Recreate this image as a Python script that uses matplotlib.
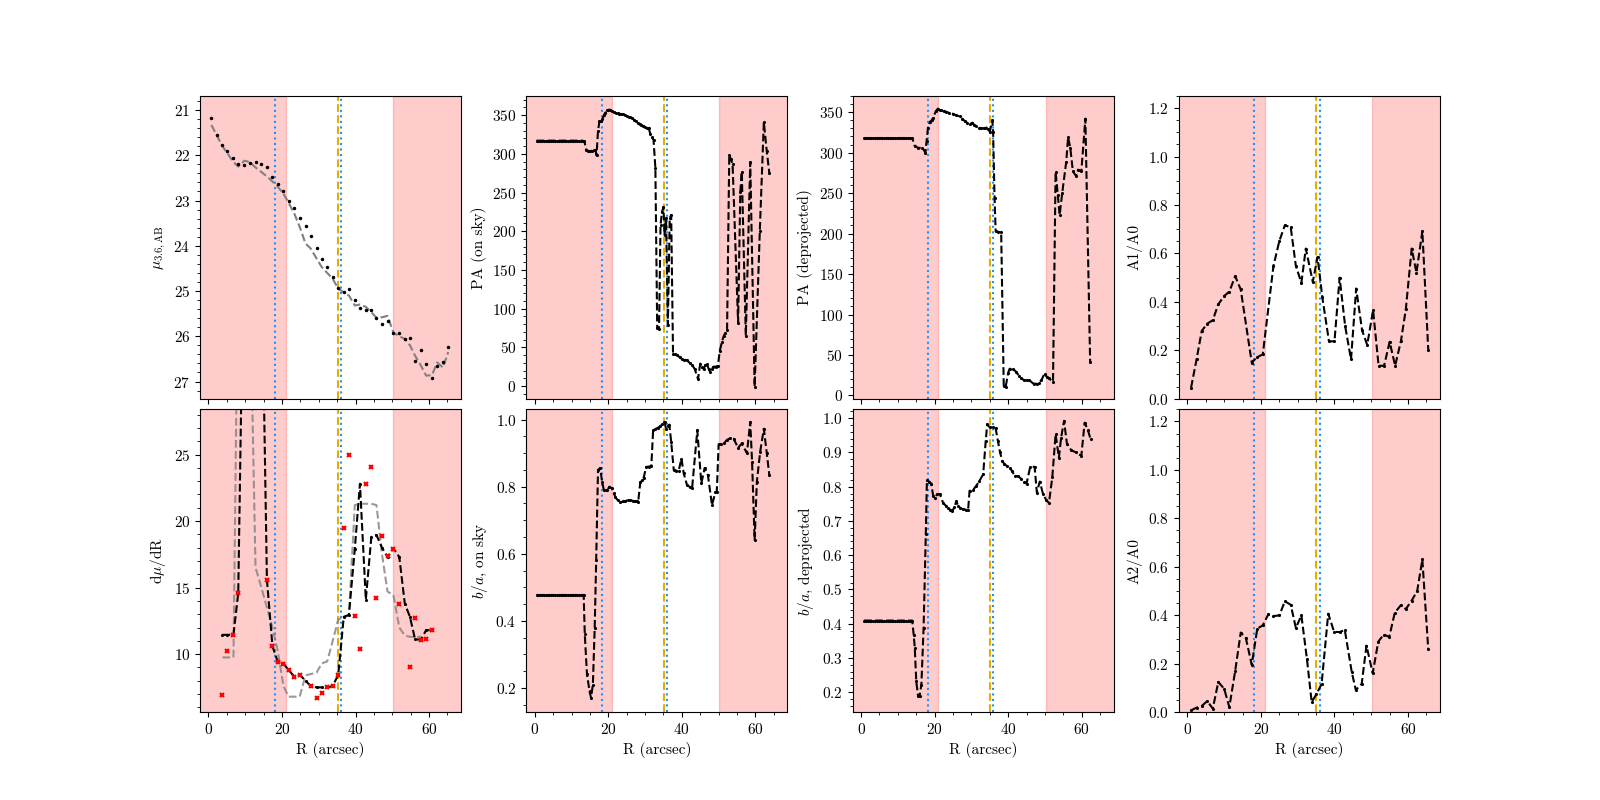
import numpy as np
import matplotlib
matplotlib.use('Agg')
import matplotlib.pyplot as plt

plt.rcParams['font.family'] = 'serif'
plt.rcParams['font.serif'] = ['cmr10']
plt.rcParams['font.size'] = 11
plt.rcParams['mathtext.fontset'] = 'cm'
plt.rcParams['axes.unicode_minus'] = False
plt.rcParams['axes.formatter.use_mathtext'] = True

# radios de las marcas verticales y zonas sombreadas (arcsec)
r_bar1 = 18.2
r_cor = 35.1
r_bar2 = 36.0
zona_in = (-5, 21.0)
zona_out = (50.2, 75)

# perfil de brillo superficial
r_prof = [0.8, 2.2, 3.8, 5.1, 6.8, 8.1, 9.8, 11.2, 12.8, 14.4, 15.9, 17.4, 18.8, 20.4, 21.8,
          23.4, 24.8, 26.4, 27.8, 29.4, 30.8, 32.3, 33.8, 35.3, 36.8, 38.2, 39.8, 41.2, 42.8,
          44.3, 45.7, 47.2, 48.7, 50.3, 51.9, 53.4, 54.8, 56.2, 57.8, 59.2, 60.8, 62.2, 63.8, 65.2]
mu = [21.17, 21.56, 21.77, 21.9, 22.06, 22.2, 22.21, 22.16, 22.15, 22.19, 22.25, 22.47, 22.64,
      22.8, 23.01, 23.17, 23.39, 23.56, 23.79, 24.04, 24.3, 24.48, 24.7, 24.94, 25.03, 24.95,
      25.19, 25.37, 25.41, 25.41, 25.59, 25.72, 25.66, 25.92, 25.92, 26.05, 26.03, 26.55, 26.3,
      26.61, 26.93, 26.66, 26.57, 26.23]
mu_suave = [21.33, 21.55, 21.8, 21.95, 22.15, 22.25, 22.12, 22.15, 22.27, 22.37, 22.47, 22.58,
            22.69, 22.85, 23.05, 23.3, 23.58, 23.95, 24.06, 24.28, 24.47, 24.6, 24.73, 24.95,
            25.03, 25.1, 25.32, 25.3, 25.35, 25.47, 25.59, 25.58, 25.55, 25.92, 26.0, 26.06,
            26.2, 26.43, 26.65, 26.87, 26.86, 26.58, 26.69, 26.35]

# derivada del perfil
r_der = [3.8, 5.1, 6.8, 8.1, 9.8, 11.2, 12.8, 14.4, 15.9, 17.4, 18.8, 20.4, 21.8, 23.4, 24.8,
         26.4, 27.8, 29.4, 30.8, 32.3, 33.8, 35.3, 36.8, 38.2, 39.8, 41.2, 42.8, 44.3, 45.7,
         47.2, 48.7, 50.3, 51.9, 53.4, 54.8, 56.2, 57.8, 59.2, 60.8]
der_med = [11.45, 11.45, 11.45, 14.6, 45, 50, 48, 41, 15.6, 10.6, 9.45, 9.3, 8.8, 8.3, 8.45,
           8.0, 7.6, 7.5, 7.5, 7.5, 7.6, 8.45, 12.8, 12.95, 17.9, 22.8, 14.1, 18.8, 18.95,
           18.0, 17.3, 17.95, 17.3, 13.8, 12.8, 11.1, 11.1, 11.8, 11.8]
r_der_gris = [3.8, 5.1, 6.8, 8.1, 9.8, 11.2, 12.8, 14.4, 15.9, 17.4, 18.8, 20.4, 21.8, 23.4,
              24.8, 26.4, 27.8, 29.4, 30.8, 32.3, 33.8, 35.3, 36.8, 38.2, 39.8, 41.2, 42.8,
              44.3, 45.7, 47.2, 48.7, 50.3, 51.9, 53.4, 54.8, 56.2, 57.8]
der_gris = [9.75, 9.75, 9.75, 41, 45, 39, 16.5, 15.0, 13.5, 12.0, 10.3, 7.6, 6.8, 6.8, 6.8,
            8.4, 8.5, 8.6, 9.3, 9.45, 11.0, 12.6, 12.8, 12.9, 21.2, 21.3, 21.3, 21.3, 21.2,
            17.5, 14.7, 14.45, 12.0, 11.4, 11.3, 11.3, 11.3]
r_der_pts = [3.8, 5.1, 6.8, 8.1, 15.9, 17.4, 18.8, 20.4, 21.8, 23.4, 24.8, 27.8, 29.4, 30.8,
             32.3, 33.8, 35.3, 36.8, 38.2, 39.8, 41.2, 42.8, 44.3, 45.7, 47.2, 48.7, 50.3,
             51.9, 54.8, 56.2, 57.8, 59.2, 60.8]
der_pts = [6.9, 10.2, 11.4, 14.6, 15.55, 10.6, 9.4, 9.25, 8.8, 8.3, 8.45, 7.6, 6.7, 7.05,
           7.5, 7.6, 8.45, 19.45, 25.0, 12.85, 10.35, 22.75, 24.1, 14.2, 18.85, 17.35, 17.9,
           13.8, 9.05, 12.75, 11.05, 11.1, 11.8]

# ajuste de elipses, en el cielo
r_sky = [0.5, 1.0, 1.5, 2.0, 2.5, 3.0, 3.5, 4.0, 4.5, 5.0, 5.5, 6.0, 6.5, 7.0, 7.5, 8.0, 8.5,
         9.0, 9.5, 10.0, 10.5, 11.0, 11.5, 12.0, 12.5, 13.0, 13.5, 14.0, 14.5, 15.0, 15.5,
         16.0, 16.5, 16.8, 17.2, 17.6, 18.0, 18.4, 18.8, 19.2, 19.6, 20.0, 20.5, 21.0, 21.5,
         22.0, 22.5, 23.0, 23.5, 24.0, 24.5, 25.0, 25.5, 26.0, 26.5, 27.0, 27.5, 28.0, 28.5,
         29.0, 29.5, 30.0, 30.5, 31.0, 31.4, 31.8, 32.3, 32.8, 33.3, 33.8, 34.2, 34.6, 35.0,
         35.3, 35.7, 36.2, 36.7, 37.1, 37.6, 38.2, 38.8, 39.4, 40.0, 40.7, 41.4, 42.1, 42.8,
         43.5, 44.4, 45.0, 45.5, 45.9, 46.4, 46.8, 47.3, 47.7, 48.2, 48.6, 49.2, 49.8, 50.3,
         50.9, 51.4, 51.8, 52.3, 52.9, 53.3, 53.8, 55.3, 55.9, 56.3, 57.4, 58.6, 59.8, 61.2,
         62.3, 63.1, 63.8]
pa_sky = [317, 317, 317, 317, 317, 317, 317, 317, 317, 317, 317, 317, 317, 317, 317, 317, 317,
          317, 317, 317, 317, 317, 317, 317, 317, 317, 316, 305, 304, 303, 304,
          305, 305, 298, 330, 342, 343, 345, 350, 353, 356, 357, 357, 355, 354,
          353, 353, 352, 351, 351, 350, 349, 348, 347, 346, 344, 342, 340, 338,
          337, 336, 335, 334, 333, 326, 322, 318, 282, 75, 74, 208, 225, 231,
          195, 217, 79, 217, 221, 42, 41, 40, 37, 35, 34, 33, 30, 27,
          22, 9, 29, 24, 22, 27, 29, 22, 18, 22, 25, 25, 26, 45,
          57, 65, 68, 72, 299, 293, 287, 82, 251, 277, 65, 289, -1, 200,
          341, 303, 275]
r_ba_sky = [0.5, 1.0, 1.5, 2.0, 2.5, 3.0, 3.5, 4.0, 4.5, 5.0, 5.5, 6.0, 6.5, 7.0, 7.5, 8.0,
            8.5, 9.0, 9.5, 10.0, 10.5, 11.0, 11.5, 12.0, 12.5, 13.0, 13.3, 13.6, 14.2, 14.9,
            15.3, 15.8, 16.3, 16.7, 17.2, 17.8, 18.3, 18.8, 19.3, 19.7, 20.3, 21.0, 21.5,
            21.9, 22.5, 23.3, 24.0, 24.6, 25.3, 26.0, 26.6, 27.2, 27.7, 28.1, 28.7, 29.2,
            29.6, 30.3, 31.0, 31.7, 32.2, 32.8, 33.5, 34.1, 34.6, 35.3, 35.7, 36.2, 36.6,
            37.1, 37.8, 38.5, 39.1, 39.9, 40.5, 41.4, 42.1, 42.8, 44.2, 45.3, 46.2, 47.1,
            48.2, 49.1, 49.5, 50.0, 50.7, 51.4, 52.3, 53.2, 54.1, 55.3, 56.3, 57.7, 58.6,
            59.1, 59.8, 60.4, 61.3, 62.3, 63.1, 63.8]
ba_sky = [0.477, 0.477, 0.477, 0.477, 0.477, 0.477, 0.477, 0.477, 0.477, 0.477, 0.477, 0.477,
          0.477, 0.477, 0.477, 0.477, 0.477, 0.477, 0.477, 0.477, 0.477, 0.477, 0.477, 0.477,
          0.477, 0.477, 0.477, 0.36, 0.24, 0.19, 0.17, 0.21, 0.38, 0.58, 0.85, 0.856, 0.815,
          0.79, 0.79, 0.79, 0.80, 0.795, 0.78, 0.77, 0.76, 0.753, 0.756, 0.757, 0.76, 0.76,
          0.758, 0.757, 0.756, 0.753, 0.813, 0.82, 0.826, 0.859, 0.86, 0.862, 0.97, 0.972,
          0.976, 0.98, 0.988, 0.993, 0.973, 0.98, 0.985, 0.934, 0.85, 0.848, 0.846, 0.884,
          0.84, 0.805, 0.80, 0.797, 0.968, 0.81, 0.856, 0.834, 0.745, 0.783, 0.785, 0.926,
          0.928, 0.929, 0.94, 0.945, 0.943, 0.916, 0.929, 0.9, 0.993, 0.874, 0.641, 0.815,
          0.904, 0.973, 0.9, 0.834]

# ajuste de elipses, deproyectado
r_dep = [0.8, 1.3, 1.8, 2.3, 2.8, 3.3, 3.8, 4.3, 4.8, 5.3, 5.8, 6.3, 6.8, 7.3, 7.8, 8.3, 8.8,
         9.3, 9.8, 10.3, 10.8, 11.3, 11.8, 12.3, 12.8, 13.3, 13.9, 14.6, 15.5, 16.7, 17.5,
         17.8, 18.2, 18.7, 19.2, 19.6, 20.3, 20.9, 21.4, 21.8, 22.5, 23.2, 24.0, 25.0, 25.9,
         26.8, 27.5, 28.2, 28.8, 29.5, 30.3, 30.8, 31.3, 32.0, 32.7, 33.4, 34.1, 34.6, 35.0,
         35.7, 35.9, 36.3, 36.6, 37.2, 38.1, 38.8, 39.3, 40.0, 40.4, 41.3, 42.2, 43.0, 43.6,
         44.3, 45.0, 45.8, 46.9, 47.8, 48.4, 49.0, 49.9, 50.5, 51.1, 52.2, 52.9, 53.5, 54.0,
         54.7, 55.8, 56.3, 56.9, 57.6, 58.5, 59.0, 59.9, 61.0, 62.3]
pa_dep = [318, 318, 318, 318, 318, 318, 318, 318, 318, 318, 318, 318, 318, 318, 318, 318, 318,
          318, 318, 318, 318, 318, 318, 318, 318, 318, 318, 308, 306, 306, 300,
          314, 331, 338, 340, 343, 351, 354.5, 353, 352.5, 351, 350.4, 349, 348, 346,
          345, 342, 339, 337, 335, 337, 334, 333, 331, 330, 330, 331, 329, 326,
          340, 326, 244, 203, 202, 202, 12, 10, 28, 33, 33, 29, 24, 21,
          19, 18.6, 18.6, 14.5, 14.5, 16, 18.6, 27, 23, 21, 17, 276, 248, 223,
          250, 289, 319, 306, 277, 271, 279, 277, 342, 41]
r_ba_dep = [0.8, 1.3, 1.8, 2.3, 2.8, 3.3, 3.8, 4.3, 4.8, 5.3, 5.8, 6.3, 6.8, 7.3, 7.8, 8.3,
            8.8, 9.3, 9.8, 10.3, 10.8, 11.3, 11.8, 12.3, 12.8, 13.3, 13.9, 14.3, 14.6, 15.0,
            15.5, 15.9, 16.4, 17.0, 17.6, 17.9, 18.5, 19.1, 19.6, 20.0, 20.7, 21.4, 22.3,
            23.0, 23.6, 24.2, 24.8, 25.4, 25.9, 26.4, 27.0, 27.7, 28.4, 29.1, 29.5, 30.4,
            31.3, 32.2, 33.2, 33.9, 34.3, 35.0, 35.9, 36.6, 37.2, 37.8, 38.4, 39.0, 39.7,
            40.4, 41.1, 41.8, 42.7, 43.6, 44.3, 45.0, 46.0, 47.2, 47.8, 48.6, 49.5, 50.4,
            51.1, 52.0, 52.9, 53.8, 54.4, 55.2, 56.0, 57.2, 58.5, 59.9, 60.8, 61.7, 62.4]
ba_dep = [0.409, 0.409, 0.409, 0.409, 0.409, 0.409, 0.409, 0.409, 0.409, 0.409, 0.409, 0.409,
          0.409, 0.409, 0.409, 0.409, 0.409, 0.409, 0.409, 0.409, 0.409, 0.409, 0.409, 0.409,
          0.409, 0.409, 0.409, 0.368, 0.33, 0.232, 0.188, 0.188, 0.222, 0.388, 0.661, 0.819,
          0.815, 0.809, 0.773, 0.768, 0.778, 0.778, 0.753, 0.745, 0.739, 0.733, 0.729, 0.74,
          0.758, 0.744, 0.738, 0.734, 0.733, 0.731, 0.788, 0.79, 0.802, 0.817, 0.836, 0.934,
          0.982, 0.973, 0.973, 0.97, 0.934, 0.9, 0.875, 0.866, 0.86, 0.856, 0.845, 0.831,
          0.831, 0.822, 0.815, 0.809, 0.858, 0.858, 0.783, 0.815, 0.778, 0.76, 0.753, 0.827,
          0.953, 0.885, 0.943, 0.992, 0.924, 0.906, 0.9, 0.89, 0.987, 0.965, 0.939]

# amplitudes de Fourier
r_a1 = [1.0, 2.5, 3.9, 5.4, 6.9, 8.4, 10.0, 11.4, 13.0, 14.5, 17.5, 19.0, 20.5, 23.4, 25.0,
        26.5, 28.1, 29.5, 31.0, 32.2, 34.1, 35.4, 36.7, 38.5, 40.0, 41.4, 42.9, 44.5, 45.9,
        47.5, 48.9, 50.5, 52.0, 53.5, 55.0, 56.5, 58.1, 59.4, 61.0, 62.3, 63.9, 65.5]
a1 = [0.046, 0.163, 0.28, 0.31, 0.324, 0.39, 0.424, 0.442, 0.506, 0.451, 0.149, 0.172, 0.183,
      0.548, 0.651, 0.716, 0.708, 0.548, 0.479, 0.62, 0.483, 0.585, 0.418, 0.237, 0.237, 0.5,
      0.30, 0.162, 0.455, 0.283, 0.222, 0.366, 0.136, 0.136, 0.235, 0.136, 0.24, 0.369, 0.62,
      0.52, 0.692, 0.203]
r_a2 = [1.0, 2.5, 3.9, 5.4, 6.9, 8.4, 10.0, 11.4, 13.0, 14.5, 15.9, 17.5, 19.0, 20.5, 22.0,
        23.4, 25.0, 26.5, 28.1, 29.5, 31.0, 32.5, 33.8, 35.1, 36.5, 38.3, 39.9, 41.4, 42.8,
        44.7, 45.8, 47.4, 48.7, 50.4, 51.9, 53.4, 54.9, 56.4, 58.0, 59.4, 61.0, 62.5, 63.9,
        65.5]
a2 = [0.007, 0.018, 0.025, 0.045, 0.014, 0.124, 0.096, 0.02, 0.17, 0.328, 0.305, 0.195, 0.344,
      0.358, 0.403, 0.396, 0.399, 0.457, 0.443, 0.347, 0.399, 0.22, 0.041, 0.074, 0.116,
      0.406, 0.331, 0.33, 0.339, 0.165, 0.091, 0.116, 0.274, 0.16, 0.29, 0.32, 0.31, 0.41,
      0.44, 0.425, 0.46, 0.50, 0.63, 0.26]

fig, axes = plt.subplots(2, 4, figsize=(16, 8), sharex=True)
fig.subplots_adjust(hspace=0.035, wspace=0.25)

for ax in axes.flat:
    ax.axvspan(*zona_in, color='red', alpha=0.2, zorder=0)
    ax.axvspan(*zona_out, color='red', alpha=0.2, zorder=0)
    ax.axvline(r_bar1, color='dodgerblue', ls=':', lw=1.5)
    ax.axvline(r_cor, color='#e6ad00', ls='--', lw=1.5)
    ax.axvline(r_bar2, color='dodgerblue', ls=':', lw=1.5)
    ax.minorticks_on()

estilo = dict(color='k', ls='--', lw=1.5, marker='.', ms=2.5)

ax = axes[0, 0]
ax.plot(r_prof, mu_suave, color='grey', ls='--', lw=1.5)
ax.plot(r_prof, mu, 'k.', ms=3)
ax.set_ylim(27.38, 20.69)
ax.set_ylabel(r'$\mu_{3.6,\mathrm{AB}}$')

ax = axes[1, 0]
ax.plot(r_der_gris, der_gris, color='grey', ls='--', lw=1.5, alpha=0.8)
ax.plot(r_der, der_med, **estilo)
ax.plot(r_der_pts, der_pts, 'rx', ms=3.5, mew=1.5)
ax.set_ylim(5.65, 28.4)
ax.set_ylabel(r'd$\mu$/dR')

ax = axes[0, 1]
ax.plot(r_sky, pa_sky, **estilo)
ax.set_ylim(-16.4, 374.7)
ax.set_ylabel('PA (on sky)')

ax = axes[1, 1]
ax.plot(r_ba_sky, ba_sky, **estilo)
ax.set_ylim(0.128, 1.031)
ax.set_ylabel(r'$b/a$, on sky')

ax = axes[0, 2]
ax.plot(r_dep, pa_dep, **estilo)
ax.set_ylim(-4, 370)
ax.set_ylabel('PA (deprojected)')

ax = axes[1, 2]
ax.plot(r_ba_dep, ba_dep, **estilo)
ax.set_ylim(0.142, 1.026)
ax.set_ylabel(r'$b/a$, deprojected')

ax = axes[0, 3]
ax.plot(r_a1, a1, **estilo)
ax.set_ylim(0, 1.25)
ax.set_ylabel('A1/A0')

ax = axes[1, 3]
ax.plot(r_a2, a2, **estilo)
ax.set_ylim(0, 1.25)
ax.set_ylabel('A2/A0')

axes[0, 0].set_xlim(-2.3, 68.7)
axes[1, 0].set_xticks([0, 20, 40, 60])
for ax in axes[1]:
    ax.set_xlabel('R (arcsec)')

fig.savefig('out.png', dpi=100)
